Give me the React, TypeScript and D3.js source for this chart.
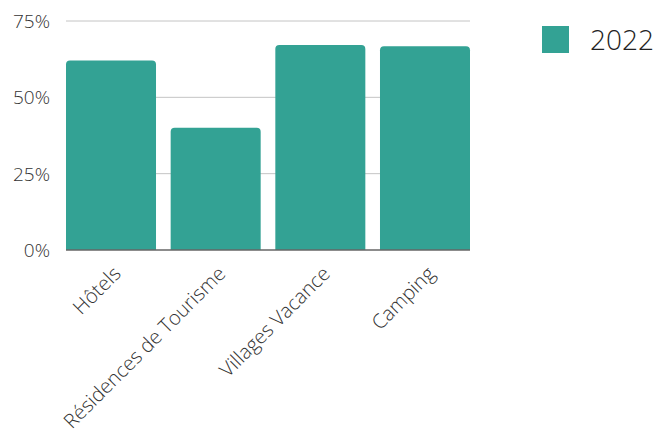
import React, { useEffect, useRef } from 'react';
import * as d3 from 'd3';

const categories = ['Hôtels', 'Résidences de Tourisme', 'Villages Vacance', 'Camping'];
const values2022 = [62.1, 40.0, 67.1, 66.7];
const yTicks = [0, 25, 50, 75];
const seriesName = '2022';

const App: React.FC = () => {
  const svgRef = useRef<SVGSVGElement>(null);

  useEffect(() => {
    if (!svgRef.current) return;
    const width = 658;
    const height = 432;
    const left = 66;
    const right = 470;
    const top = 21;
    const bottom = 250;
    const font = '"Open Sans", sans-serif';
    const barColor = '#33a294';

    const svg = d3.select(svgRef.current);
    svg.selectAll('*').remove();
    svg.attr('width', width).attr('height', height);

    const x = d3.scaleBand<string>()
      .domain(categories)
      .range([left, right])
      .paddingInner(0.14)
      .paddingOuter(0);
    const y = d3.scaleLinear().domain([0, 75]).range([bottom, top]);

    // gridlines
    svg.append('g')
      .selectAll('line')
      .data(yTicks.filter(t => t > 0))
      .join('line')
      .attr('x1', left)
      .attr('x2', right)
      .attr('y1', d => y(d))
      .attr('y2', d => y(d))
      .attr('stroke', '#c4c4c4')
      .attr('stroke-width', 1);

    // y labels
    svg.append('g')
      .selectAll('text')
      .data(yTicks)
      .join('text')
      .attr('x', 50)
      .attr('y', d => y(d))
      .attr('dy', '0.36em')
      .attr('text-anchor', 'end')
      .attr('font-family', font)
      .attr('font-weight', 300)
      .attr('font-size', 19)
      .attr('fill', '#333')
      .text(d => `${d}%`);

    // bars with rounded tops
    const r = 4;
    const bw = x.bandwidth();
    svg.append('g')
      .selectAll('path')
      .data(categories.map((c, i) => ({ c, v: values2022[i] })))
      .join('path')
      .attr('d', d => {
        const x0 = x(d.c)!;
        const x1 = x0 + bw;
        const yt = y(d.v);
        const p = d3.path();
        p.moveTo(x0, bottom);
        p.lineTo(x0, yt + r);
        p.quadraticCurveTo(x0, yt, x0 + r, yt);
        p.lineTo(x1 - r, yt);
        p.quadraticCurveTo(x1, yt, x1, yt + r);
        p.lineTo(x1, bottom);
        p.closePath();
        return p.toString();
      })
      .attr('fill', barColor);

    // baseline
    svg.append('line')
      .attr('x1', left)
      .attr('x2', right)
      .attr('y1', bottom)
      .attr('y2', bottom)
      .attr('stroke', '#666')
      .attr('stroke-width', 1.5);

    // x labels
    svg.append('g')
      .selectAll('text')
      .data(categories)
      .join('text')
      .attr('transform', d => `translate(${x(d)! + bw / 2 + 11},${bottom + 25}) rotate(-45)`)
      .attr('text-anchor', 'end')
      .attr('font-family', font)
      .attr('font-weight', 300)
      .attr('font-size', 20)
      .attr('fill', '#333')
      .text(d => d);

    // legend
    svg.append('rect')
      .attr('x', 542)
      .attr('y', 26)
      .attr('width', 27)
      .attr('height', 27)
      .attr('fill', barColor);
    svg.append('text')
      .attr('x', 590)
      .attr('y', 39.5)
      .attr('dy', '0.36em')
      .attr('font-family', font)
      .attr('font-weight', 300)
      .attr('font-size', 28)
      .attr('fill', '#222')
      .text(seriesName);
  }, []);

  return <svg ref={svgRef} style={{ position: 'absolute', left: 0, top: 0 }} />;
};

export default App;
